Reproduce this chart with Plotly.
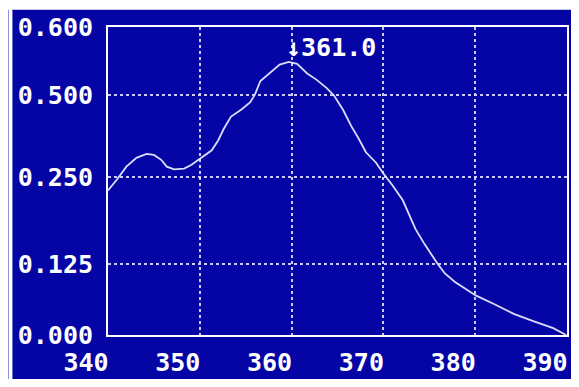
import numpy as np
import plotly.graph_objects as go

# Wavelength (nm) and absorbance
wavelength = [340.0, 341.0, 342.0, 343.1, 344.2, 345.0, 345.8, 346.4, 347.2, 348.3,
              349.1, 350.2, 351.3, 352.0, 352.6, 353.4, 354.5, 355.5, 356.0, 356.6,
              357.6, 358.7, 359.7, 360.6, 361.7, 362.7, 363.8, 364.6, 365.6, 366.5,
              367.3, 368.1, 369.2, 369.9, 371.0, 372.1, 373.5, 374.5, 375.9, 376.7,
              377.8, 379.2, 380.1, 382.1, 384.2, 386.4, 388.5, 389.9]
absorbance = [0.231, 0.247, 0.282, 0.309, 0.321, 0.318, 0.303, 0.282, 0.274, 0.276,
              0.288, 0.309, 0.332, 0.362, 0.397, 0.435, 0.456, 0.479, 0.501, 0.521,
              0.532, 0.545, 0.549, 0.546, 0.532, 0.523, 0.511, 0.500, 0.456, 0.406,
              0.368, 0.326, 0.294, 0.265, 0.238, 0.217, 0.175, 0.153, 0.125, 0.108,
              0.093, 0.079, 0.069, 0.054, 0.037, 0.024, 0.012, 0.000]

x_ticks = [340, 350, 360, 370, 380, 390]
x_tick_labels = ["340", "350", "360", "370", "380", "390"]
y_ticks = [0.0, 0.125, 0.25, 0.5, 0.6]
y_tick_labels = ["0.000", "0.125", "0.250", "0.500", "0.600"]
peak_label = "\u2193361.0"

# The instrument's absorbance scale is piecewise (non-uniform labels); map to display units
scale_knots_value = [0.0, 0.125, 0.25, 0.5, 0.6]
scale_knots_display = [0.0, 0.23125, 0.5125, 0.778125, 1.0]


def to_display(v):
    return np.interp(v, scale_knots_value, scale_knots_display)


BLUE = "#0505A5"
WHITE = "#FFFFFF"
CURVE = "#DCDCFF"
GRID = "rgba(215,215,255,0.95)"
FONT = dict(family="DejaVu Sans Mono", size=25, color=WHITE, weight="bold")

y_disp = to_display(np.array(absorbance))
ipk = int(np.argmax(absorbance))

fig = go.Figure()
fig.add_trace(go.Scatter(x=wavelength, y=y_disp, mode="lines",
                         line=dict(color=CURVE, width=1.8), hoverinfo="skip"))

fig.add_annotation(x=wavelength[ipk], y=float(y_disp[ipk]), text=peak_label,
                   showarrow=False, xanchor="left", yanchor="bottom",
                   xshift=-5, yshift=-2, font=FONT)

# blue instrument screen (photo has a thin white border at left and top)
fig.add_shape(type="rect", xref="paper", yref="paper", x0=-96 / 461, x1=1.1,
              y0=-0.3, y1=338 / 320, fillcolor=BLUE, line=dict(width=0), layer="below")

fig.update_layout(
    width=563, height=371,
    margin=dict(l=100, r=2, t=19, b=32),
    paper_bgcolor=BLUE, plot_bgcolor=BLUE,
    showlegend=False,
)
fig.add_shape(type="rect", xref="paper", yref="paper", x0=-100 / 461, x1=-96 / 461,
              y0=-0.3, y1=1.2, fillcolor=WHITE, line=dict(width=0), layer="below")
fig.add_shape(type="rect", xref="paper", yref="paper", x0=-0.3, x1=1.1,
              y0=338 / 320, y1=1.2, fillcolor=WHITE, line=dict(width=0), layer="below")

fig.update_xaxes(range=[340, 390], tickvals=x_ticks, ticktext=x_tick_labels,
                 tickfont=FONT, ticks="", ticklabelshift=-22, ticklabelstandoff=4,
                 showgrid=True, gridcolor=GRID, griddash="dot", gridwidth=1.5,
                 showline=True, mirror=True, linecolor=WHITE, linewidth=2,
                 zeroline=False, fixedrange=True)
fig.update_yaxes(range=[0, 1], tickvals=list(to_display(np.array(y_ticks))),
                 ticktext=y_tick_labels,
                 tickfont=FONT, ticks="", ticklabelstandoff=8,
                 showgrid=True, gridcolor=GRID, griddash="dot", gridwidth=1.5,
                 showline=True, mirror=True, linecolor=WHITE, linewidth=2,
                 zeroline=False, fixedrange=True)

fig.write_html("out.html")
